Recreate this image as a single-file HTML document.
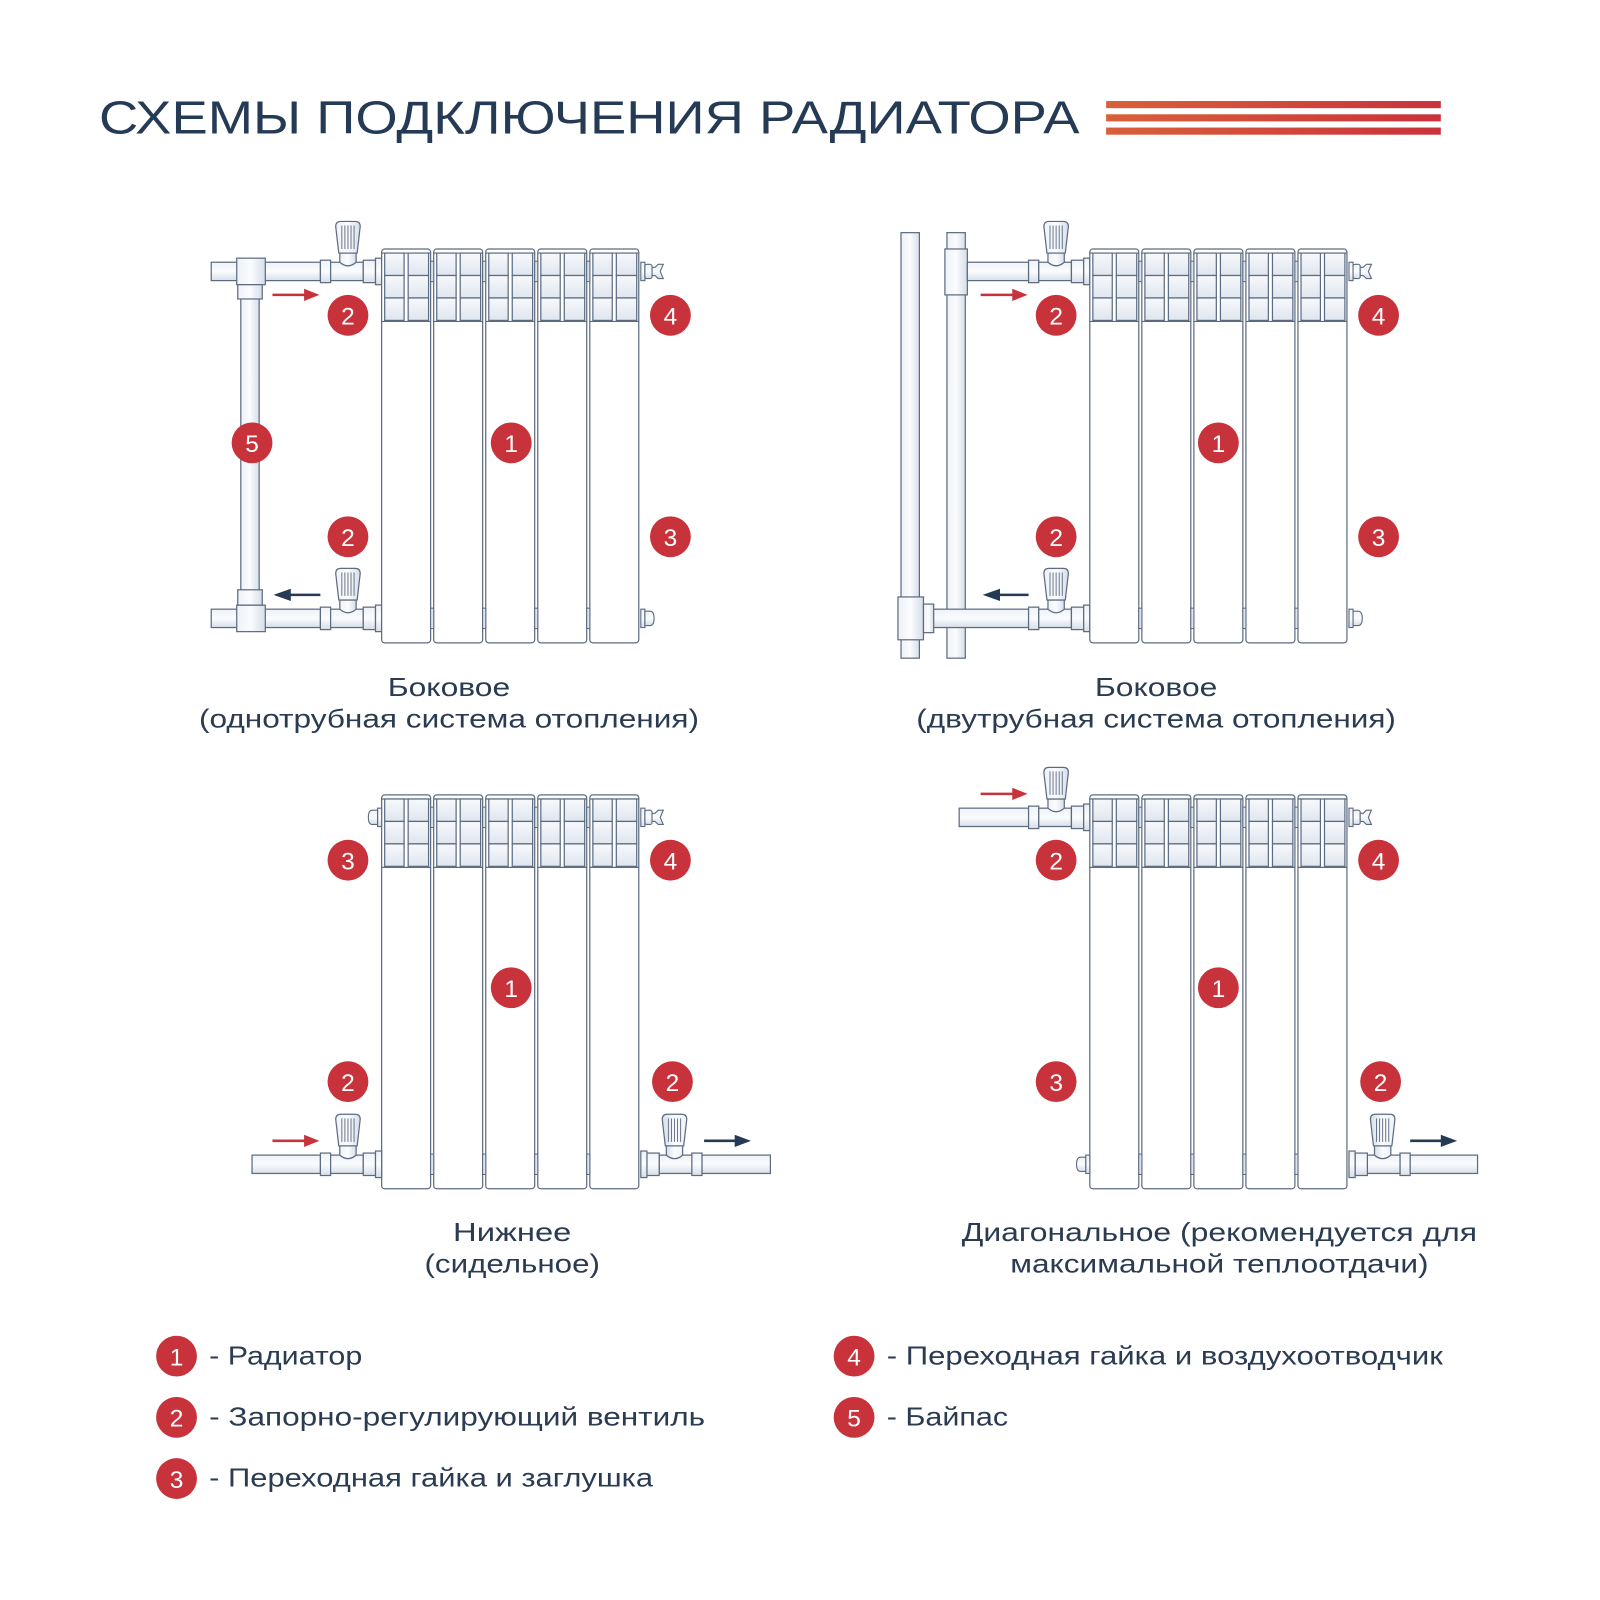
<!DOCTYPE html>
<html><head><meta charset="utf-8"><style>
html,body{margin:0;padding:0;background:#fff;}
svg{display:block;}
text{font-family:"Liberation Sans","DejaVu Sans",sans-serif;fill:#2a3b52;}
</style></head><body>
<svg width="1600" height="1600" viewBox="0 0 1568 1568" xmlns="http://www.w3.org/2000/svg">
<defs>
<linearGradient id="stripe" x1="0" x2="1"><stop offset="0" stop-color="#d9603a"/><stop offset="1" stop-color="#c9323c"/></linearGradient>
<linearGradient id="sq" x1="0" y1="0" x2="0" y2="1"><stop offset="0" stop-color="#f7f9fc"/><stop offset="1" stop-color="#dfe6ef"/></linearGradient>
<linearGradient id="pipeH" x1="0" y1="0" x2="0" y2="1"><stop offset="0" stop-color="#eef2f7"/><stop offset="0.5" stop-color="#fafcfe"/><stop offset="1" stop-color="#d6dee8"/></linearGradient>
<linearGradient id="pipeV" x1="0" y1="0" x2="1" y2="0"><stop offset="0" stop-color="#eef2f7"/><stop offset="0.5" stop-color="#fafcfe"/><stop offset="1" stop-color="#d6dee8"/></linearGradient>
<g id="sect" stroke="#5d6b80" stroke-width="1.2">
  <rect x="0" y="0" width="48" height="386" rx="3" fill="#fff"/>
  <line x1="0" y1="4" x2="48" y2="4"/>
  <rect x="3" y="4" width="19" height="22" fill="url(#sq)"/>
  <rect x="26" y="4" width="20" height="22" fill="url(#sq)"/>
  <rect x="3" y="26" width="19" height="22" fill="url(#sq)"/>
  <rect x="26" y="26" width="20" height="22" fill="url(#sq)"/>
  <rect x="3" y="48" width="19" height="22" fill="url(#sq)"/>
  <rect x="26" y="48" width="20" height="22" fill="url(#sq)"/>
  <line x1="0" y1="71" x2="48" y2="71"/>
</g>
<g id="rad">
  <use href="#sect" x="0"/><use href="#sect" x="51"/><use href="#sect" x="102"/><use href="#sect" x="153"/><use href="#sect" x="204"/>
  <g fill="#dfe6ef" stroke="#5d6b80" stroke-width="1">
    <rect x="48" y="12" width="3" height="20"/><rect x="99" y="12" width="3" height="20"/><rect x="150" y="12" width="3" height="20"/><rect x="201" y="12" width="3" height="20"/>
    <rect x="48" y="352" width="3" height="20"/><rect x="99" y="352" width="3" height="20"/><rect x="150" y="352" width="3" height="20"/><rect x="201" y="352" width="3" height="20"/>
  </g>
</g>
<g id="valve" stroke="#5d6b80" stroke-width="1.2">
  <rect x="0" y="-11" width="10" height="22" fill="url(#pipeH)"/>
  <rect x="10" y="-9" width="32" height="18" fill="url(#pipeH)"/>
  <rect x="42" y="-11" width="12" height="22" fill="url(#pipeH)"/>
  <rect x="54" y="-13" width="6" height="26" fill="url(#pipeH)"/>
  <path d="M19,-9 L19,-18 L35,-18 L35,-9 Q27,-2 19,-9Z" fill="url(#pipeV)"/>
  <path d="M15,-44 Q15,-49 20,-49 L34,-49 Q39,-49 39,-44 L36,-18 L18,-18Z" fill="url(#pipeV)"/>
  <path d="M21,-45 V-22 M24,-45 V-22 M27,-45 V-22 M30,-45 V-22 M33,-45 V-22" stroke-width="0.9"/>
</g>
<g id="vent" stroke="#5d6b80" stroke-width="1.1" fill="url(#pipeH)">
  <rect x="0" y="-9" width="4" height="18"/><rect x="4" y="-7" width="7" height="14" rx="2"/>
  <path d="M11,-4 L14,-4 L17,-7 L22,-7 L19,0 L22,7 L17,7 L14,4 L11,4Z"/>
</g>
<g id="plugR" stroke="#5d6b80" stroke-width="1.1" fill="url(#pipeH)">
  <rect x="0" y="-9" width="4" height="18"/><path d="M4,-7 L9,-7 Q13,-7 13,0 Q13,7 9,7 L4,7Z"/>
</g>
<g id="badge"><circle r="20" fill="#c8333b"/></g>
</defs>

<!-- Title -->
<text x="97" y="131" font-size="45" textLength="961" lengthAdjust="spacingAndGlyphs" style="fill:#253b55">СХЕМЫ ПОДКЛЮЧЕНИЯ РАДИАТОРА</text>
<rect x="1084" y="99" width="328" height="7" fill="url(#stripe)"/>
<rect x="1084" y="112" width="328" height="7" fill="url(#stripe)"/>
<rect x="1084" y="125" width="328" height="7" fill="url(#stripe)"/>

<!-- TL -->
<g stroke="#5d6b80" stroke-width="1.2">
  <rect x="236" y="285" width="18" height="295" fill="url(#pipeV)"/>
  <rect x="258" y="257" width="56" height="18" fill="url(#pipeH)"/>
  <rect x="207" y="257" width="26" height="18" fill="url(#pipeH)"/>
  <rect x="232" y="253" width="28" height="26" fill="url(#pipeV)"/>
  <rect x="233" y="279" width="24" height="14" fill="url(#pipeV)"/>
  <rect x="258" y="597" width="56" height="18" fill="url(#pipeH)"/>
  <rect x="207" y="597" width="26" height="18" fill="url(#pipeH)"/>
  <rect x="232" y="593" width="28" height="26" fill="url(#pipeV)"/>
  <rect x="233" y="578" width="24" height="15" fill="url(#pipeV)"/>
</g>
<use href="#valve" x="314" y="266"/>
<use href="#valve" x="314" y="606"/>
<use href="#rad" x="374" y="244"/>
<use href="#vent" x="628" y="266"/>
<use href="#plugR" x="628" y="606"/>
<path d="M267,289 H300" stroke="#c8333b" stroke-width="2.5"/><path d="M298,283 L313,289 L298,295Z" fill="#c8333b"/>
<path d="M283,583 H314" stroke="#253b55" stroke-width="2.5"/><path d="M285,577 L268,583 L285,589Z" fill="#253b55"/>

<!-- TR -->
<g stroke="#5d6b80" stroke-width="1.2">
  <rect x="883" y="228" width="18" height="417" fill="url(#pipeV)"/>
  <rect x="928" y="228" width="18" height="417" fill="url(#pipeV)"/>
  <rect x="926" y="244" width="22" height="45" fill="url(#pipeV)"/>
  <rect x="948" y="257" width="60" height="18" fill="url(#pipeH)"/>
  <rect x="905" y="597" width="103" height="18" fill="url(#pipeH)"/>
  <rect x="880" y="585" width="25" height="42" fill="url(#pipeV)"/>
  <rect x="905" y="592" width="10" height="28" fill="url(#pipeV)"/>
</g>
<use href="#valve" x="1008" y="266"/>
<use href="#valve" x="1008" y="606"/>
<use href="#rad" x="1068" y="244"/>
<use href="#vent" x="1322" y="266"/>
<use href="#plugR" x="1322" y="606"/>
<path d="M961,289 H994" stroke="#c8333b" stroke-width="2.5"/><path d="M992,283 L1007,289 L992,295Z" fill="#c8333b"/>
<path d="M978,583 H1008" stroke="#253b55" stroke-width="2.5"/><path d="M980,577 L963,583 L980,589Z" fill="#253b55"/>

<!-- BL -->
<use href="#rad" x="374" y="779"/>
<use href="#plugR" x="374" y="801" transform="translate(748,0) scale(-1,1)"/>
<use href="#vent" x="628" y="801"/>
<rect x="247" y="1132" width="67" height="18" fill="url(#pipeH)" stroke="#5d6b80" stroke-width="1.2"/>
<use href="#valve" x="314" y="1141"/>
<g transform="translate(1316,0) scale(-1,1)"><use href="#valve" x="628" y="1141"/></g>
<rect x="688" y="1132" width="67" height="18" fill="url(#pipeH)" stroke="#5d6b80" stroke-width="1.2"/>
<path d="M267,1118 H300" stroke="#c8333b" stroke-width="2.5"/><path d="M298,1112 L313,1118 L298,1124Z" fill="#c8333b"/>
<path d="M690,1118 H722" stroke="#253b55" stroke-width="2.5"/><path d="M720,1112 L736,1118 L720,1124Z" fill="#253b55"/>

<!-- BR -->
<use href="#rad" x="1068" y="779"/>
<rect x="940" y="792" width="68" height="18" fill="url(#pipeH)" stroke="#5d6b80" stroke-width="1.2"/>
<use href="#valve" x="1008" y="801"/>
<use href="#vent" x="1322" y="801"/>
<g transform="translate(2136,0) scale(-1,1)"><use href="#plugR" x="1068" y="1141"/></g>
<g transform="translate(2704,0) scale(-1,1)"><use href="#valve" x="1322" y="1141"/></g>
<rect x="1382" y="1132" width="66" height="18" fill="url(#pipeH)" stroke="#5d6b80" stroke-width="1.2"/>
<path d="M961,778 H994" stroke="#c8333b" stroke-width="2.5"/><path d="M992,772 L1007,778 L992,784Z" fill="#c8333b"/>
<path d="M1382,1118 H1414" stroke="#253b55" stroke-width="2.5"/><path d="M1412,1112 L1428,1118 L1412,1124Z" fill="#253b55"/>

<!-- badges -->
<g font-size="24" text-anchor="middle" style="font-weight:normal">
<g><use href="#badge" x="341" y="309"/><text x="341" y="318" style="fill:#fff">2</text></g>
<g><use href="#badge" x="657" y="309"/><text x="657" y="318" style="fill:#fff">4</text></g>
<g><use href="#badge" x="247" y="434"/><text x="247" y="443" style="fill:#fff">5</text></g>
<g><use href="#badge" x="501" y="434"/><text x="501" y="443" style="fill:#fff">1</text></g>
<g><use href="#badge" x="341" y="526"/><text x="341" y="535" style="fill:#fff">2</text></g>
<g><use href="#badge" x="657" y="526"/><text x="657" y="535" style="fill:#fff">3</text></g>

<g><use href="#badge" x="1035" y="309"/><text x="1035" y="318" style="fill:#fff">2</text></g>
<g><use href="#badge" x="1351" y="309"/><text x="1351" y="318" style="fill:#fff">4</text></g>
<g><use href="#badge" x="1194" y="434"/><text x="1194" y="443" style="fill:#fff">1</text></g>
<g><use href="#badge" x="1035" y="526"/><text x="1035" y="535" style="fill:#fff">2</text></g>
<g><use href="#badge" x="1351" y="526"/><text x="1351" y="535" style="fill:#fff">3</text></g>

<g><use href="#badge" x="341" y="843"/><text x="341" y="852" style="fill:#fff">3</text></g>
<g><use href="#badge" x="657" y="843"/><text x="657" y="852" style="fill:#fff">4</text></g>
<g><use href="#badge" x="501" y="968"/><text x="501" y="977" style="fill:#fff">1</text></g>
<g><use href="#badge" x="341" y="1060"/><text x="341" y="1069" style="fill:#fff">2</text></g>
<g><use href="#badge" x="659" y="1060"/><text x="659" y="1069" style="fill:#fff">2</text></g>

<g><use href="#badge" x="1035" y="843"/><text x="1035" y="852" style="fill:#fff">2</text></g>
<g><use href="#badge" x="1351" y="843"/><text x="1351" y="852" style="fill:#fff">4</text></g>
<g><use href="#badge" x="1194" y="968"/><text x="1194" y="977" style="fill:#fff">1</text></g>
<g><use href="#badge" x="1035" y="1060"/><text x="1035" y="1069" style="fill:#fff">3</text></g>
<g><use href="#badge" x="1353" y="1060"/><text x="1353" y="1069" style="fill:#fff">2</text></g>

<g><use href="#badge" x="173" y="1329"/><text x="173" y="1338" style="fill:#fff">1</text></g>
<g><use href="#badge" x="173" y="1389"/><text x="173" y="1398" style="fill:#fff">2</text></g>
<g><use href="#badge" x="173" y="1449"/><text x="173" y="1458" style="fill:#fff">3</text></g>
<g><use href="#badge" x="837" y="1329"/><text x="837" y="1338" style="fill:#fff">4</text></g>
<g><use href="#badge" x="837" y="1389"/><text x="837" y="1398" style="fill:#fff">5</text></g>
</g>

<!-- captions -->
<g font-size="25" text-anchor="middle">
<text x="440" y="682" textLength="120" lengthAdjust="spacingAndGlyphs">Боковое</text>
<text x="440" y="713" textLength="490" lengthAdjust="spacingAndGlyphs">(однотрубная система отопления)</text>
<text x="1133" y="682" textLength="120" lengthAdjust="spacingAndGlyphs">Боковое</text>
<text x="1133" y="713" textLength="470" lengthAdjust="spacingAndGlyphs">(двутрубная система отопления)</text>
<text x="502" y="1216" textLength="116" lengthAdjust="spacingAndGlyphs">Нижнее</text>
<text x="502" y="1247" textLength="172" lengthAdjust="spacingAndGlyphs">(сидельное)</text>
<text x="1195" y="1216" textLength="505" lengthAdjust="spacingAndGlyphs">Диагональное (рекомендуется для</text>
<text x="1195" y="1247" textLength="410" lengthAdjust="spacingAndGlyphs">максимальной теплоотдачи)</text>
</g>
<g font-size="25">
<text x="205" y="1337" textLength="150" lengthAdjust="spacingAndGlyphs">- Радиатор</text>
<text x="205" y="1397" textLength="486" lengthAdjust="spacingAndGlyphs">- Запорно-регулирующий вентиль</text>
<text x="205" y="1457" textLength="435" lengthAdjust="spacingAndGlyphs">- Переходная гайка и заглушка</text>
<text x="869" y="1337" textLength="545" lengthAdjust="spacingAndGlyphs">- Переходная гайка и воздухоотводчик</text>
<text x="869" y="1397" textLength="119" lengthAdjust="spacingAndGlyphs">- Байпас</text>
</g>
</svg>
</body></html>
